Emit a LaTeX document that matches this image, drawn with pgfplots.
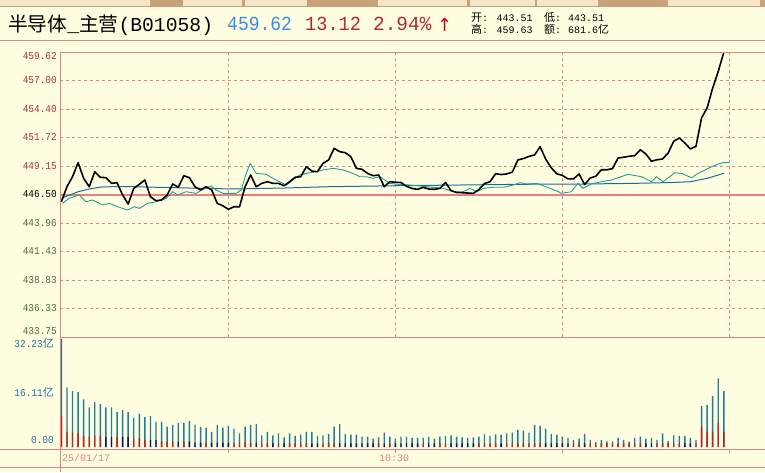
\documentclass[border=0pt]{standalone}
\usepackage{fontspec}
\usepackage{graphicx}
\usepackage{pgfplots}
\pgfplotsset{compat=1.18}
\setmainfont{Liberation Mono}
\newfontfamily\mono{Liberation Mono}
\newfontfamily\cjk{Noto Sans CJK SC}
\newfontfamily\dejavu{DejaVu Sans}
\definecolor{bg}{RGB}{255,254,225}
\definecolor{framec}{RGB}{228,128,128}
\definecolor{gridc}{RGB}{214,140,140}
\definecolor{refred}{RGB}{240,128,128}
\definecolor{tealc}{RGB}{32,160,150}
\definecolor{avgc}{RGB}{20,110,160}
\definecolor{barc}{RGB}{30,125,155}
\definecolor{barred}{RGB}{200,30,30}
\definecolor{barnavy}{RGB}{20,20,100}
\definecolor{labred}{RGB}{165,55,55}
\definecolor{labgreen}{RGB}{80,105,80}
\definecolor{labblue}{RGB}{40,110,160}
\definecolor{datec}{RGB}{220,130,120}
\definecolor{titleblue}{RGB}{60,140,220}
\definecolor{titlered}{RGB}{175,40,55}
\definecolor{tanc}{RGB}{200,162,118}
\definecolor{tablight}{RGB}{244,230,200}
\newcommand{\pl}[3]{\smash{\raisebox{#2}{\textcolor{#1}{\scalebox{0.9}[1]{#3}}}}}
\newcommand{\vl}[2]{\smash{\raisebox{#1}{\textcolor{labblue}{#2}}}}
\begin{document}
\begin{tikzpicture}
\path[use as bounding box, fill=bg] (0,0) rectangle (765pt,-472pt);
\begin{scope}[x=1pt,y=-1pt]
 \fill[tanc] (0,0) rectangle (765,7);
 \foreach \a/\b in {0/150,183/242,245/307,378/467,470/535,537/598,668/760}
   \fill[tablight] (\a,0) rectangle (\b,6);
 \node[anchor=base west, inner sep=0] at (8,31.5) {\fontsize{19.7}{20}\selectfont\cjk 半导体{\mono\_}主营{\mono(B01058)}};
 \node[anchor=base west, inner sep=0, text=titleblue] at (227,30) {\mono\fontsize{20}{20}\selectfont\scalebox{0.9}[1]{459.62}};
 \node[anchor=base west, inner sep=0, text=titlered] at (305,30) {\mono\fontsize{20}{20}\selectfont\scalebox{0.93}[1]{13.12}};
 \node[anchor=base west, inner sep=0, text=titlered] at (373,30) {\mono\fontsize{20}{20}\selectfont\scalebox{0.97}[1]{2.94\%}};
 \node[anchor=base west, inner sep=0, text=red!80!black] at (437,31) {\dejavu\fontsize{18}{18}\selectfont ↑};
 \node[anchor=base west, inner sep=0] at (471,21) {\cjk\fontsize{11}{11}\selectfont 开};
 \node[anchor=base west, inner sep=0] at (482,21) {\mono\fontsize{10}{10}\selectfont :};
 \node[anchor=base west, inner sep=0] at (496.5,21) {\mono\fontsize{10}{10}\selectfont 443.51};
 \node[anchor=base west, inner sep=0] at (544,21) {\cjk\fontsize{11}{11}\selectfont 低};
 \node[anchor=base west, inner sep=0] at (555,21) {\mono\fontsize{10}{10}\selectfont :};
 \node[anchor=base west, inner sep=0] at (568,21) {\mono\fontsize{10}{10}\selectfont 443.51};
 \node[anchor=base west, inner sep=0] at (471,33) {\cjk\fontsize{11}{11}\selectfont 高};
 \node[anchor=base west, inner sep=0] at (482,33) {\mono\fontsize{10}{10}\selectfont :};
 \node[anchor=base west, inner sep=0] at (496.5,33) {\mono\fontsize{10}{10}\selectfont 459.63};
 \node[anchor=base west, inner sep=0] at (544,33) {\cjk\fontsize{11}{11}\selectfont 额};
 \node[anchor=base west, inner sep=0] at (555,33) {\mono\fontsize{10}{10}\selectfont :};
 \node[anchor=base west, inner sep=0] at (568,33) {\mono\fontsize{10}{10}\selectfont 681.6{\cjk\fontsize{11}{11}\selectfont 亿}};
 \node[anchor=base west, inner sep=0, text=datec] at (62,461) {\mono\fontsize{10}{10}\selectfont 25/01/17};
 \node[anchor=base, inner sep=0, text=datec] at (394,461) {\mono\fontsize{10}{10}\selectfont 10:30};
\end{scope}

\begin{axis}[
  at={(60pt,-337pt)}, anchor=south west,
  scale only axis, width=705pt, height=284.7pt,
  xmin=-0.25, xmax=126.4, ymin=433.44, ymax=459.62,
  axis line style={draw=none},
  xtick={30,60,90,120}, xticklabels={},
  ytick={433.44,436.058,438.676,441.294,443.912,446.53,449.148,451.766,454.384,457.002,459.62},
  yticklabels={\pl{labgreen}{5.3pt}{433.75},\pl{labgreen}{0pt}{436.33},\pl{labgreen}{0pt}{438.83},\pl{labgreen}{0pt}{441.43},\pl{labgreen}{0pt}{443.96},\pl{black}{0pt}{446.50},\pl{labred}{0pt}{449.15},\pl{labred}{0pt}{451.72},\pl{labred}{0pt}{454.40},\pl{labred}{0pt}{457.00},\pl{labred}{-4.4pt}{459.62}},
  major tick length=0pt,
  xmajorgrids, ymajorgrids,
  major grid style={gridc, line width=0.8pt, dash pattern=on 3pt off 3pt},
  yticklabel style={anchor=base east, inner sep=0pt, xshift=-3pt, yshift=-3.2pt, font=\mono\fontsize{10.5}{10.5}\selectfont},
]
\addplot[refred, line width=2.5pt] coordinates {(-0.25,446.5) (126.4,446.5)};
\addplot[avgc, line width=1pt] coordinates {(0,446.19) (3,446.80) (5,447.05) (7,447.23) (9,447.26) (13,447.26) (17,447.21) (23,447.14) (31,447.05) (40,447.14) (48,447.26) (60,447.35) (72,447.42) (88,447.51) (94,447.51) (103,447.57) (110,447.65) (113,447.72) (116,448.03) (119,448.49)};
\addplot[tealc, line width=0.9pt] coordinates {(0.2,445.74) (1.4,446.19) (3.2,446.50) (4.4,445.88) (5.6,446.04) (7.4,445.58) (8.6,445.73) (10.1,445.42) (11.9,445.12) (13.1,445.42) (14.0,445.27) (15.5,445.73) (17.0,445.88) (18.8,446.19) (20.0,446.80) (20.9,446.50) (22.4,446.80) (24.2,446.65) (25.4,447.02) (26.9,447.33) (27.8,446.96) (29.0,446.65) (30.2,446.65) (31.4,446.65) (32.3,446.96) (33.2,448.49) (33.9,449.41) (35.0,448.49) (36.8,448.40) (38.0,448.03) (39.2,447.72) (40.4,447.42) (41.6,447.88) (42.8,448.34) (44.0,448.49) (45.2,448.59) (47.0,448.80) (48.8,448.95) (50.6,448.80) (52.4,448.49) (53.6,448.18) (54.8,448.18) (56.0,448.03) (57.2,448.18) (58.1,447.88) (59.0,447.57) (60.5,447.48) (62.6,447.42) (65.6,447.26) (68.6,447.11) (70.4,446.80) (72.2,446.80) (73.4,447.11) (74.6,446.80) (75.8,447.11) (77.6,447.21) (79.4,447.21) (81.2,447.42) (82.4,447.63) (83.6,447.51) (85.4,447.57) (87.8,447.11) (89.3,446.80) (89.8,446.65) (91.6,446.80) (92.8,447.57) (93.7,447.11) (95.2,447.51) (97.0,447.72) (98.8,447.88) (101.8,448.40) (104.2,448.18) (106.0,447.72) (106.9,448.18) (108.1,447.72) (110.2,448.55) (111.4,448.49) (113.2,448.09) (114.4,448.49) (116.2,448.95) (118.0,449.35) (118.9,449.47) (120.0,449.47)};
\addplot[black, line width=1.6pt, line join=round] coordinates {(0,445.88) (1,447.26) (2,448.18) (3,449.47) (4,448.03) (5,447.26) (6,448.64) (7,448.13) (8,448.09) (9,447.57) (10,447.63) (11,446.50) (12,445.67) (13,447.11) (14,447.48) (15,447.88) (16,446.34) (17,445.97) (18,446.04) (19,446.50) (20,447.51) (21,447.21) (22,448.27) (23,448.09) (24,447.26) (25,446.96) (26,447.26) (27,446.96) (28,445.73) (29,445.51) (30,445.18) (31,445.42) (32,445.42) (33,447.26) (34,448.34) (35,447.26) (36,447.57) (37,447.72) (38,447.57) (39,447.57) (40,447.35) (41,447.72) (42,448.13) (43,448.18) (44,449.10) (45,448.70) (46,448.64) (47,449.41) (48,449.72) (49,450.79) (50,450.48) (51,450.39) (52,450.02) (53,448.95) (54,448.86) (55,448.49) (56,448.27) (57,448.34) (58,447.26) (59,447.72) (60,447.67) (61,447.65) (62,447.30) (63,447.10) (64,447.02) (65,447.20) (66,447.05) (67,447.02) (68,447.11) (69,447.65) (70,446.90) (71,446.73) (72,446.71) (73,446.68) (74,446.65) (75,447.00) (76,447.55) (77,447.72) (78,448.45) (79,448.38) (80,448.43) (81,448.60) (82,449.72) (83,449.85) (84,450.05) (85,450.18) (86,450.94) (87,449.80) (88,449.00) (89,448.45) (90,448.30) (91,447.98) (92,447.98) (93,448.43) (94,447.45) (95,448.06) (96,448.22) (97,448.82) (98,448.82) (99,448.92) (100,449.90) (101,449.97) (102,450.06) (103,450.11) (104,450.66) (105,450.27) (106,449.60) (107,449.74) (108,449.81) (109,450.36) (110,451.44) (111,451.74) (112,451.28) (113,450.73) (114,450.98) (115,453.58) (116,454.50) (117,456.34) (118,457.87) (119,459.62)};
\end{axis}

\begin{axis}[
  at={(60pt,-449pt)}, anchor=south west,
  scale only axis, width=705pt, height=112pt,
  xmin=-0.25, xmax=126.4, ymin=-0.6, ymax=32.84,
  axis line style={draw=none},
  xtick={30,60,90,120}, xticklabels={}, xtick pos=bottom, tick align=outside,
  xtick style={framec, line width=0.8pt}, major tick length=4pt,
  ytick={0,16.11,32.23}, ytick style={draw=none},
  yticklabels={\vl{7pt}{\scalebox{0.9}[1]{0.00}},\vl{0pt}{\scalebox{0.9}[1]{16.11}{\cjk\fontsize{11}{11}\selectfont 亿}},\vl{-5pt}{\scalebox{0.9}[1]{32.23}{\cjk\fontsize{11}{11}\selectfont 亿}}},
  yticklabel style={anchor=base east, inner sep=0pt, xshift=-2pt, yshift=-3.5pt, font=\mono\fontsize{10.5}{10.5}\selectfont},
]
\addplot[ybar, bar width=1.4pt, bar shift=0pt, fill=barc, draw=none] coordinates {(0,32.23) (1,17.8) (2,16.7) (3,16.4) (4,14.2) (5,11.8) (6,13.4) (7,12.8) (8,11.8) (9,11.8) (10,10.4) (11,11.0) (12,10.4) (13,8.7) (14,10.0) (15,8.9) (16,9.25) (17,7.5) (18,7.5) (19,6.1) (20,6.6) (21,7.1) (22,7.1) (23,7.8) (24,6.6) (25,5.9) (26,5.7) (27,4.5) (28,6.5) (29,5.8) (30,6.3) (31,5.5) (32,4.1) (33,6.1) (34,6.5) (35,6.9) (36,3.5) (37,4.5) (38,3.5) (39,4.1) (40,2.9) (41,4.1) (42,3.3) (43,3.7) (44,4.5) (45,4.5) (46,3.3) (47,3.5) (48,3.9) (49,6.1) (50,6.8) (51,3.9) (52,3.7) (53,3.7) (54,3.1) (55,3.1) (56,2.5) (57,2.9) (58,4.3) (59,3.1) (60,2.5) (61,3.1) (62,3.1) (63,2.7) (64,2.7) (65,2.7) (66,3.1) (67,2.5) (68,3.1) (69,3.3) (70,3.5) (71,3.1) (72,2.9) (73,2.7) (74,2.9) (75,3.1) (76,3.8) (77,3.3) (78,3.8) (79,3.7) (80,4.1) (81,4.3) (82,5.1) (83,4.9) (84,4.3) (85,6.6) (86,6.3) (87,5.5) (88,3.9) (89,3.7) (90,3.1) (91,2.7) (92,2.1) (93,2.5) (94,3.9) (95,2.1) (96,1.5) (97,2.1) (98,1.7) (99,1.7) (100,2.7) (101,2.1) (102,1.6) (103,2.7) (104,3.1) (105,2.5) (106,2.7) (107,2.1) (108,4.1) (109,1.7) (110,3.5) (111,3.3) (112,3.3) (113,2.7) (114,2.1) (115,12.2) (116,12.5) (117,15.2) (118,20.5) (119,16.7)};
\addplot[ybar, bar width=1.4pt, bar shift=0pt, fill=barred, draw=none] coordinates {(0,9.25) (1,4.6) (2,4.3) (3,4.1) (4,3.3) (5,3.1) (6,3.3) (7,3.3) (10,3.0) (13,2.6) (14,2.6) (15,2.1) (18,1.6) (19,1.6) (20,1.6) (22,1.6) (26,1.3) (31,1.3) (32,1.3) (33,1.3) (34,1.3) (36,1.1) (37,1.1) (39,1.1) (41,1.1) (42,1.1) (43,1.1) (44,1.1) (47,1.1) (48,1.1) (49,1.1) (57,1.1) (59,1.1) (65,1.1) (68,1.1) (69,1.1) (75,1.1) (76,1.1) (77,1.1) (78,1.1) (80,1.1) (81,1.1) (82,1.1) (83,1.1) (84,1.1) (85,1.1) (86,1.1) (92,1.1) (93,1.1) (95,1.1) (96,1.1) (97,1.1) (98,1.1) (99,1.1) (100,1.1) (101,1.1) (102,1.1) (103,1.1) (104,1.1) (107,1.1) (108,1.1) (109,1.1) (110,1.1) (111,1.1) (114,1.1) (115,6.1) (116,4.6) (117,4.6) (118,7.1) (119,4.6)};
\addplot[ybar, bar width=1.4pt, bar shift=0pt, fill=barnavy, draw=none] coordinates {(8,3.0) (9,3.0) (11,3.0) (12,3.0) (16,2.1) (17,2.1) (21,1.6) (23,1.6) (24,1.3) (25,1.3) (27,1.3) (28,1.3) (29,1.3) (30,1.3) (35,1.3) (38,1.1) (40,1.1) (45,1.1) (46,1.1) (50,1.1) (51,1.1) (52,1.1) (53,1.1) (54,1.1) (55,1.1) (56,1.1) (58,1.1) (60,1.1) (61,1.1) (62,1.1) (63,1.1) (64,1.1) (66,1.1) (67,1.1) (70,1.1) (71,1.1) (72,1.1) (73,1.1) (74,1.1) (79,1.1) (87,1.1) (88,1.1) (89,1.1) (90,1.1) (91,1.1) (94,1.1) (105,1.1) (106,1.1) (112,1.1) (113,1.1)};
\end{axis}

\begin{scope}[x=1pt,y=-1pt]
 \draw[framec, line width=1pt] (0,40) -- (765,40);
 \draw[framec, line width=1pt] (60,52.3) -- (765,52.3);
 \draw[framec, line width=1pt] (60,52.3) -- (60,472);
 \draw[framec, line width=1pt] (60,337) -- (765,337);
 \draw[framec, line width=1pt] (0,449) -- (765,449);
 \draw[framec, line width=1pt] (0,467) -- (765,467);
\end{scope}
\end{tikzpicture}
\end{document}
